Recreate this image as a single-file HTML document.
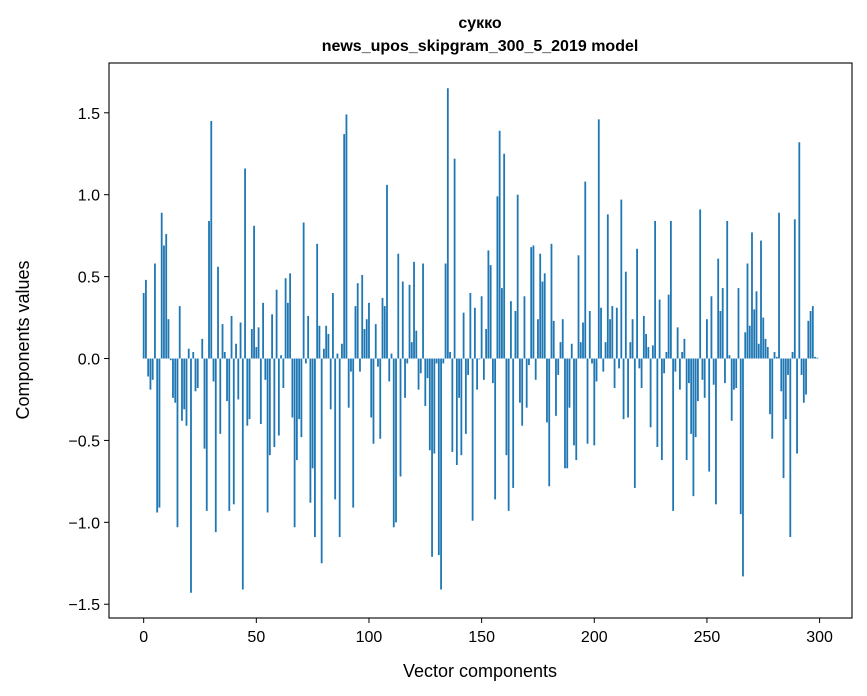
<!DOCTYPE html>
<html><head><meta charset="utf-8"><style>
body{margin:0;background:#fff;}
svg{display:block;font-family:"Liberation Sans",sans-serif;}
</style></head><body>
<svg id="chart" width="867" height="696" viewBox="0 0 867 696">
<rect width="867" height="696" fill="#fff"/>
<text x="480" y="28" text-anchor="middle" font-size="16" font-weight="bold">сукко</text>
<text x="480" y="51" text-anchor="middle" font-size="16" font-weight="bold">news_upos_skipgram_300_5_2019 model</text>
<g id="bars"></g>
<g id="axes"></g>
<text x="480" y="677" text-anchor="middle" font-size="18">Vector components</text>
<text x="29" y="340" text-anchor="middle" font-size="18" transform="rotate(-90 29 340)">Components values</text>
</svg>
<script>
const values = [0.40,0.48,-0.11,-0.19,-0.13,0.58,-0.94,-0.91,0.89,0.69,0.76,0.24,-0.01,-0.24,-0.27,-1.03,0.32,-0.38,-0.31,-0.41,
0.06,-1.43,0.04,-0.20,-0.18,0.0,0.12,-0.55,-0.93,0.84,1.45,-0.14,-1.06,0.56,-0.46,0.21,0.04,-0.26,-0.93,0.26,
-0.89,0.09,-0.25,0.22,-1.41,1.16,-0.41,-0.37,0.18,0.81,0.07,0.19,-0.40,0.34,-0.13,-0.94,-0.59,0.27,-0.54,0.42,
-0.47,0.02,-0.18,0.49,0.34,0.52,-0.36,-1.03,-0.62,-0.37,-0.48,0.83,-0.03,0.26,-0.88,-0.67,-1.09,0.70,0.20,-1.25,
0.06,0.20,0.15,-0.31,0.40,-0.86,0.03,-1.09,0.09,1.37,1.49,-0.30,-0.08,-0.91,0.32,0.46,-0.08,0.51,0.18,0.24,
0.34,-0.36,-0.52,0.21,-0.05,-0.49,0.37,0.32,1.06,-0.14,0.03,-1.03,-1.00,0.64,-0.72,0.47,-0.24,-0.03,0.45,0.10,
0.59,0.17,-0.19,-0.09,0.58,-0.29,-0.12,-0.56,-1.21,-0.58,-0.03,-1.20,-1.41,-0.03,0.58,1.65,0.04,-0.57,1.22,-0.65,
-0.24,-0.59,0.28,-0.46,-0.10,0.40,-0.99,0.31,-0.19,-0.005,0.38,-0.13,0.18,0.66,0.57,-0.15,-0.86,0.99,1.39,0.43,
1.25,-0.59,-0.93,0.35,-0.79,0.29,1.00,-0.27,-0.41,0.38,-0.30,-0.04,0.68,0.69,-0.13,0.24,0.64,0.47,0.52,-0.39,
-0.78,0.70,0.23,-0.35,-0.10,0.10,0.24,-0.67,-0.67,-0.30,0.09,-0.53,-0.62,0.63,0.10,0.22,1.08,-0.52,0.29,-0.03,
-0.53,-0.14,1.46,0.31,-0.08,0.10,0.88,0.24,0.32,-0.18,0.31,-0.06,0.97,-0.37,0.53,-0.36,0.10,0.24,-0.79,0.67,
-0.06,-0.18,0.26,0.15,0.07,-0.42,0.08,0.84,-0.54,0.36,-0.62,-0.09,0.04,0.39,0.84,-0.93,-0.08,0.19,-0.19,0.04,
0.12,-0.62,-0.15,-0.46,-0.84,-0.48,-0.26,0.91,-0.13,-0.24,0.24,-0.69,0.38,-0.16,-0.89,0.61,0.29,0.43,-0.15,0.84,
0.02,-0.38,-0.19,-0.18,0.43,-0.95,-1.33,0.16,0.58,0.20,0.77,0.30,0.41,0.09,0.72,0.25,0.12,0.07,-0.34,-0.49,
0.04,0.01,0.89,-0.20,-0.73,-0.37,-0.10,-1.09,0.04,0.85,-0.58,1.32,-0.10,-0.27,-0.22,0.23,0.29,0.32,0.01,0.005];
const xTicks = [0,50,100,150,200,250,300];
const yTicks = [-1.5,-1.0,-0.5,0.0,0.5,1.0,1.5];

const NS='http://www.w3.org/2000/svg';
const L=109,R=852,T=63,B=618;
const n=values.length;
const x0=-0.4-0.05*(n-0.2), x1=(n-1)+0.4+0.05*(n-0.2);
const vmin=Math.min(0,...values), vmax=Math.max(0,...values);
const pad=(vmax-vmin)*0.05;
const y0=vmin-pad, y1=vmax+pad;
function xs(v){return L+(v-x0)/(x1-x0)*(R-L);}
function ys(v){return B-(v-y0)/(y1-y0)*(B-T);}

const bars=document.getElementById('bars');
values.forEach((v,i)=>{
  const r=document.createElementNS(NS,'rect');
  const a=xs(i-0.4), b=xs(i+0.4);
  r.setAttribute('x',a);
  r.setAttribute('width',b-a);
  r.setAttribute('y',Math.min(ys(v),ys(0)));
  r.setAttribute('height',Math.abs(ys(v)-ys(0)));
  r.setAttribute('fill','#1f77b4');
  
  
  bars.appendChild(r);
});

const axes=document.getElementById('axes');
const frame=document.createElementNS(NS,'rect');
frame.setAttribute('x',L);frame.setAttribute('y',T);
frame.setAttribute('width',R-L);frame.setAttribute('height',B-T);
frame.setAttribute('fill','none');frame.setAttribute('stroke','#000');frame.setAttribute('stroke-width','1.1');


axes.appendChild(frame);

xTicks.forEach(t=>{
  const x=xs(t);
  const ln=document.createElementNS(NS,'line');
  ln.setAttribute('x1',x);ln.setAttribute('x2',x);ln.setAttribute('y1',B);ln.setAttribute('y2',B+5);
  ln.setAttribute('stroke','#000');
  
  
  axes.appendChild(ln);
  const tx=document.createElementNS(NS,'text');
  tx.setAttribute('x',x);tx.setAttribute('y',B+24);tx.setAttribute('text-anchor','middle');tx.setAttribute('font-size','16');
  tx.textContent=String(t);
  
  
  axes.appendChild(tx);
});
yTicks.forEach(t=>{
  const y=ys(t);
  const ln=document.createElementNS(NS,'line');
  ln.setAttribute('x1',L-5);ln.setAttribute('x2',L);ln.setAttribute('y1',y);ln.setAttribute('y2',y);
  ln.setAttribute('stroke','#000');
  
  
  axes.appendChild(ln);
  const tx=document.createElementNS(NS,'text');
  tx.setAttribute('x',L-9);tx.setAttribute('y',y+6);tx.setAttribute('text-anchor','end');tx.setAttribute('font-size','16');
  tx.textContent=(t<0?'\u2212':'')+Math.abs(t).toFixed(1);
  
  
  axes.appendChild(tx);
});
</script>
</body></html>
